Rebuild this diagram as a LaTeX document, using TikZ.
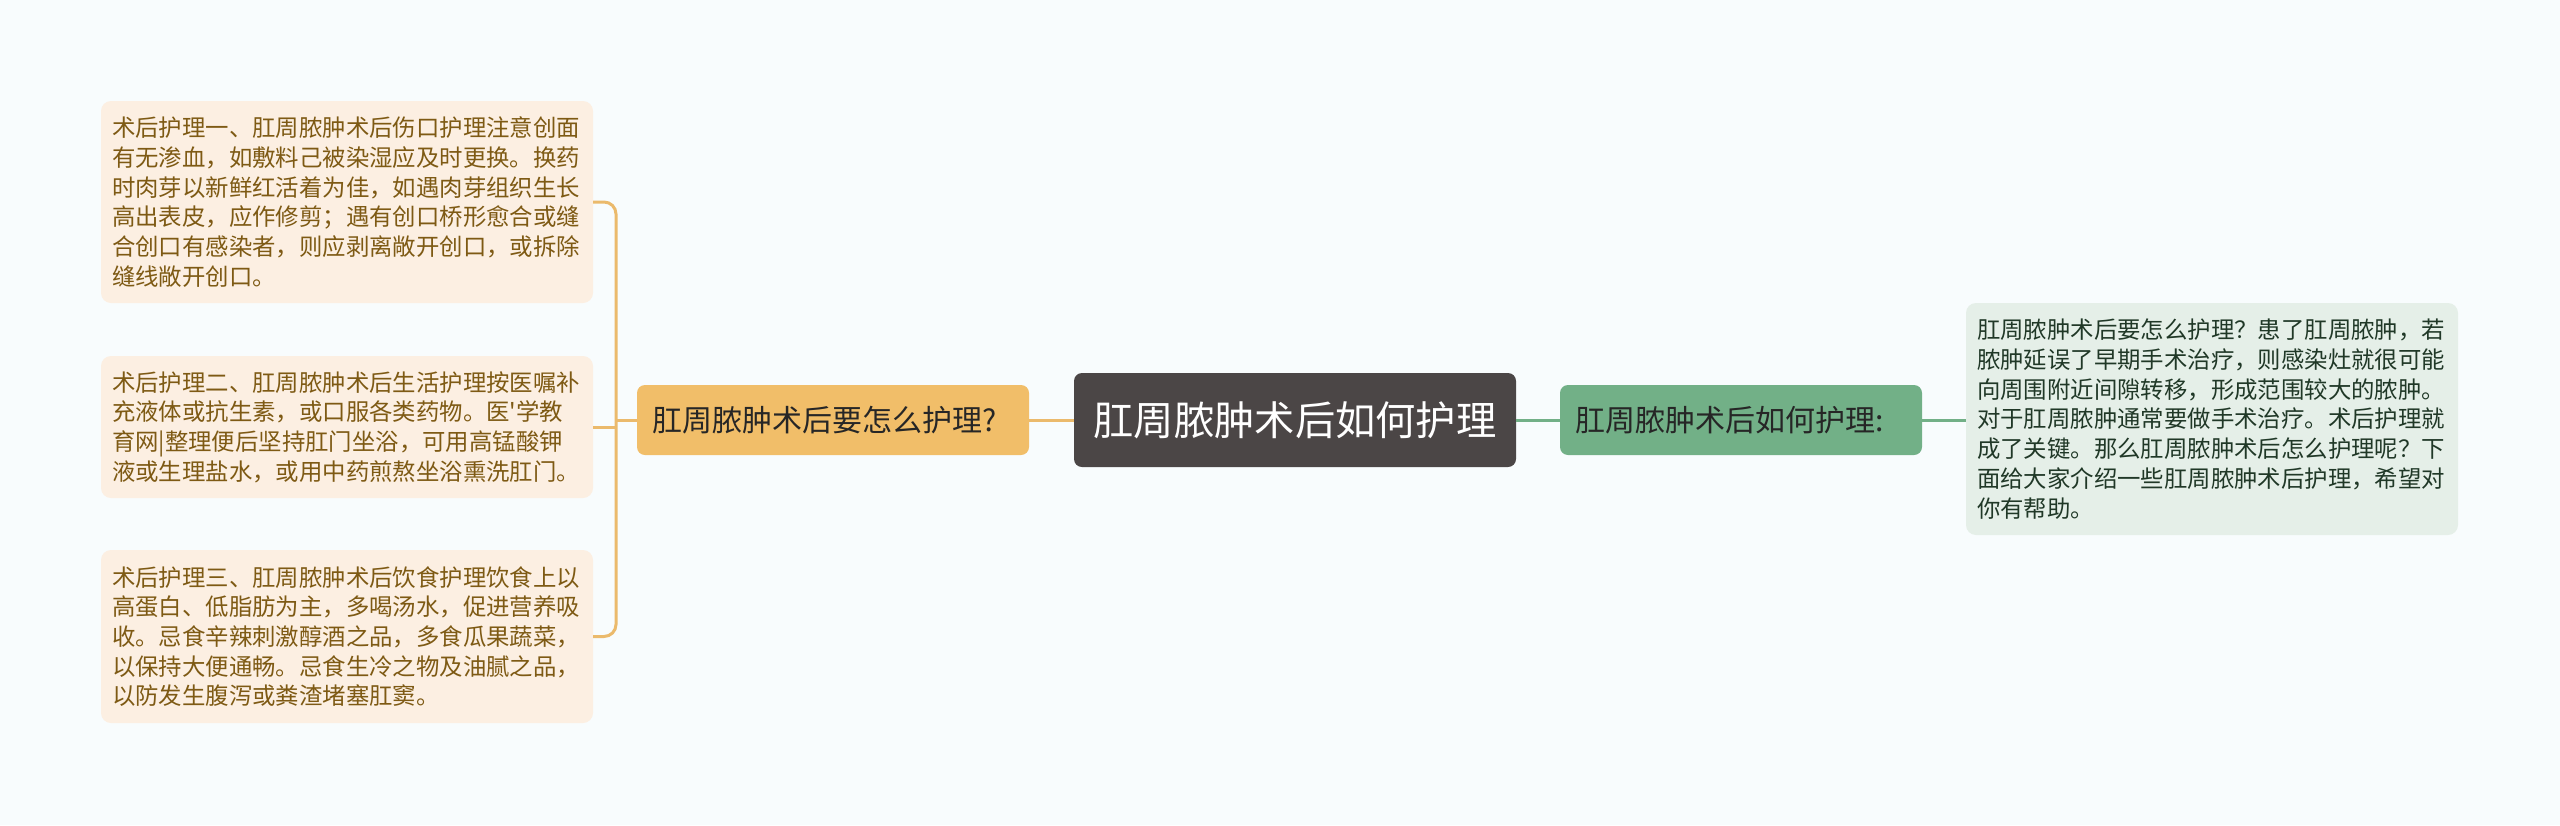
\documentclass[tikz,border=0pt]{standalone}
\usepackage{fontspec}
\newfontfamily\cjk[Ligatures=TeXOff]{Noto Sans CJK SC}
\definecolor{bgcol}{HTML}{F8FCFD}
\definecolor{tipfill}{HTML}{FCEFE2}
\definecolor{tiptext}{HTML}{7E5A14}
\definecolor{askfill}{HTML}{F1BE69}
\definecolor{askline}{HTML}{EBBA6C}
\definecolor{rootfill}{HTML}{4B4646}
\definecolor{howfill}{HTML}{72B087}
\definecolor{infofill}{HTML}{E5EFE8}
\definecolor{infotext}{HTML}{203827}
\begin{document}
\begin{tikzpicture}[x=1pt,y=-1pt,font=\cjk]
      \tikzstyle{tipnode}=[fill=tipfill, text=tiptext, rounded corners=10pt, align=left,
        text width=470pt, inner xsep=11pt, inner ysep=0pt,
        font={\cjk\fontsize{23.4}{29.7}\selectfont}]
      \tikzstyle{infonode}=[tipnode, fill=infofill, text=infotext]
      \tikzstyle{midnode}=[rounded corners=8pt, inner ysep=0pt, inner xsep=15.5pt, align=left,
        minimum height=70pt, font={\cjk\fontsize{30}{36}\selectfont}]
      \tikzstyle{askline}=[draw=askline, line width=3pt]
      \tikzstyle{howline}=[draw=howfill, line width=3pt]
      \useasboundingbox (0,0) rectangle (2560,825);
      \fill[bgcol] (0,0) rectangle (2560,825);
      % centre
      \node[fill=rootfill, text=white, rounded corners=8pt, inner sep=0pt,
        minimum width=442pt, minimum height=94pt,
        font={\cjk\fontsize{40.3}{46}\selectfont}] (root) at (1295,420) {肛周脓肿术后如何护理};
      % left branch
      \node[midnode, fill=askfill, text=black!85, text width=361pt] (ask) at (833,420) {肛周脓肿术后要怎么护理?};
      \node[tipnode, minimum height=202pt] (tip1) at (347,202) {术后护理一、肛周脓肿术后伤口护理注意创面\\有无渗血，如敷料己被染湿应及时更换。换药\\时肉芽以新鲜红活着为佳，如遇肉芽组织生长\\高出表皮，应作修剪；遇有创口桥形愈合或缝\\合创口有感染者，则应剥离敞开创口，或拆除\\缝线敞开创口。};
      \node[tipnode, minimum height=142pt] (tip2) at (347,427) {术后护理二、肛周脓肿术后生活护理按医嘱补\\充液体或抗生素，或口服各类药物。医'学教\\育网|整理便后坚持肛门坐浴，可用高锰酸钾\\液或生理盐水，或用中药煎熬坐浴熏洗肛门。};
      \node[tipnode, minimum height=173pt] (tip3) at (347,636.5) {术后护理三、肛周脓肿术后饮食护理饮食上以\\高蛋白、低脂肪为主，多喝汤水，促进营养吸\\收。忌食辛辣刺激醇酒之品，多食瓜果蔬菜，\\以保持大便通畅。忌食生冷之物及油腻之品，\\以防发生腹泻或粪渣堵塞肛窦。};
      % right branch
      \node[midnode, fill=howfill, text=black!85, text width=331pt] (how) at (1741,420) {肛周脓肿术后如何护理:};
      \node[infonode, minimum height=232pt] (info) at (2212,419) {肛周脓肿术后要怎么护理？患了肛周脓肿，若\\脓肿延误了早期手术治疗，则感染灶就很可能\\向周围附近间隙转移，形成范围较大的脓肿。\\对于肛周脓肿通常要做手术治疗。术后护理就\\成了关键。那么肛周脓肿术后怎么护理呢？下\\面给大家介绍一些肛周脓肿术后护理，希望对\\你有帮助。};
      % connectors
      \coordinate (trunk) at (616,420);
      \draw[askline] (root.west) -- (ask.east);
      \draw[askline] (ask.west) -- (trunk);
      \draw[askline, rounded corners=12pt] (tip1.east) -| (trunk) |- (tip3.east);
      \draw[askline] (tip2.east) -- (tip2.east -| trunk);
      \draw[howline] (root.east) -- (how.west);
      \draw[howline] (how.east) -- (info.west |- how.east);
\end{tikzpicture}
\end{document}
